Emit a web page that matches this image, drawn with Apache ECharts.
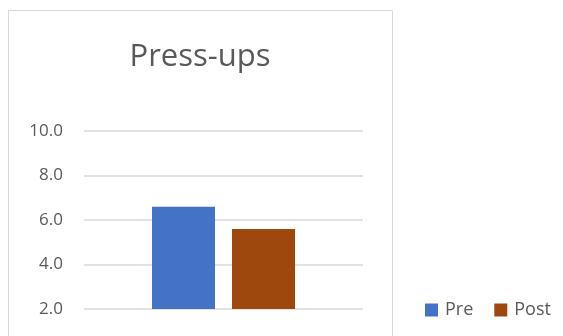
<!DOCTYPE html>
<html><head><meta charset="utf-8">
<script src="https://cdn.jsdelivr.net/npm/echarts@6/dist/echarts.min.js"></script>
<style>html,body{margin:0;padding:0;background:#fff}#c{width:563px;height:336px}</style>
</head><body><div id="c"></div>
<script>
var categories = [''];
var seriesNames = ['Pre', 'Post'];
var preValues = [6.6];
var postValues = [5.6];
var yTicks = [2, 4, 6, 8, 10];

var chart = echarts.init(document.getElementById('c'));
var font = '"Open Sans", "Noto Sans", sans-serif';
chart.setOption({
  animation: false,
  title: { text: 'Press-ups', left: 195, top: 37, textAlign: 'center',
    textStyle: { fontFamily: font, fontSize: 31, fontWeight: 'normal', color: '#595959' } },
  graphic: [{ type: 'rect', shape: { x: 8.5, y: 10.5, width: 384, height: 340 },
    style: { fill: 'none', stroke: '#d9d9d9', lineWidth: 1 }, silent: true }],
  legend: { data: seriesNames, left: 420, top: 296, itemWidth: 13, itemHeight: 13, itemGap: 21,
    icon: 'rect', textStyle: { fontFamily: font, fontSize: 18, color: '#595959', padding: [0, 0, 0, 2] } },
  grid: { left: 84, right: 200, top: 131, bottom: 27 },
  xAxis: { type: 'category', data: categories, axisLine: { show: false }, axisTick: { show: false }, axisLabel: { show: false } },
  yAxis: { type: 'value', min: yTicks[0], max: yTicks[yTicks.length - 1], interval: 2,
    axisLabel: { formatter: function (v) { return v.toFixed(1); }, margin: 21, fontFamily: font, fontSize: 17, color: '#595959' },
    splitLine: { lineStyle: { color: '#d9d9d9', width: 1.5 } }, axisLine: { show: false }, axisTick: { show: false } },
  series: [
    { name: seriesNames[0], type: 'bar', data: preValues, barWidth: 63, barGap: '27%', itemStyle: { color: '#4472C4' } },
    { name: seriesNames[1], type: 'bar', data: postValues, barWidth: 63, itemStyle: { color: '#9E480E' } }
  ]
});
</script></body></html>
